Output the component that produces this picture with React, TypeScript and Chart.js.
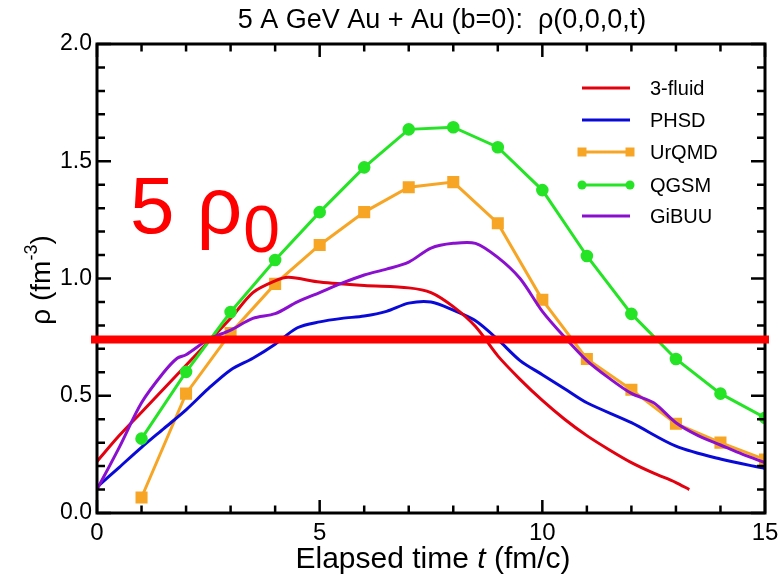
import React, { useEffect, useRef } from 'react';
import { Chart, registerables } from 'chart.js';

Chart.register(...registerables);

// ---- data ----
const markerTimes = [1, 2, 3, 4, 5, 6, 7, 8, 9, 10, 11, 12, 13, 14, 15];
const urqmdRho = [0.066, 0.509, 0.768, 0.977, 1.143, 1.283, 1.389, 1.411, 1.236, 0.909, 0.657, 0.526, 0.381, 0.3, 0.228];
const qgsmRho = [0.317, 0.602, 0.857, 1.079, 1.283, 1.474, 1.636, 1.645, 1.56, 1.377, 1.096, 0.849, 0.657, 0.509, 0.406];

const fluidT = [0, 0.5, 1, 1.5, 2, 2.5, 3, 3.5, 4, 4.3, 5, 6, 7, 7.5, 8, 8.5, 9, 9.5, 10, 10.5, 11, 11.5, 12, 12.5, 13, 13.3];
const fluidRho = [0.22, 0.33, 0.43, 0.53, 0.63, 0.73, 0.83, 0.94, 0.99, 1.005, 0.985, 0.97, 0.96, 0.94, 0.88, 0.795, 0.67, 0.57, 0.48, 0.4, 0.33, 0.27, 0.215, 0.17, 0.13, 0.1];

const phsdT = [0, 0.5, 1, 1.5, 2, 2.5, 3, 3.5, 4, 4.5, 5, 5.5, 6, 6.5, 7, 7.5, 8, 8.5, 9, 9.5, 10, 10.5, 11, 12, 13, 14, 15];
const phsdRho = [0.11, 0.195, 0.28, 0.36, 0.44, 0.53, 0.61, 0.66, 0.72, 0.79, 0.815, 0.83, 0.84, 0.86, 0.895, 0.9, 0.865, 0.82, 0.74, 0.65, 0.59, 0.53, 0.47, 0.385, 0.285, 0.23, 0.19];

const gibuuT = [0, 0.5, 1, 1.5, 1.8, 2, 2.5, 3, 3.5, 4, 4.5, 5, 5.5, 6, 6.5, 7, 7.5, 8, 8.5, 9, 9.5, 10, 10.5, 11, 11.5, 12, 12.5, 13, 13.5, 14, 14.5, 15];
const gibuuRho = [0.1, 0.28, 0.47, 0.6, 0.66, 0.675, 0.74, 0.78, 0.83, 0.85, 0.9, 0.94, 0.98, 1.015, 1.04, 1.07, 1.13, 1.15, 1.15, 1.09, 1.0, 0.86, 0.75, 0.65, 0.575, 0.51, 0.47, 0.385, 0.33, 0.29, 0.25, 0.215];

const seriesNames = ['3-fluid', 'PHSD', 'UrQMD', 'QGSM', 'GiBUU'];
const threshold = 0.74; // 5 rho_0 line
const titleText = '5 A GeV Au + Au (b=0):  \u03c1(0,0,0,t)';

const FONT = '"Liberation Sans", Arial, Helvetica, sans-serif';

const pts = (xs: number[], ys: number[]) => xs.map((x, i) => ({ x, y: ys[i] }));

const decorations = {
  id: 'decorations',
  afterDatasetsDraw(chart: any) {
    const { ctx, chartArea: a, scales } = chart;
    const xs = scales.x;
    const ys = scales.y;
    ctx.save();
    // frame
    ctx.strokeStyle = '#000';
    ctx.lineWidth = 3;
    ctx.strokeRect(a.left, a.top, a.right - a.left, a.bottom - a.top);
    // ticks (inward, mirrored)
    ctx.lineWidth = 2.5;
    ctx.beginPath();
    for (let t = 0; t <= 15; t += 1) {
      const px = xs.getPixelForValue(t);
      const len = t % 5 === 0 ? 13 : 7.5;
      ctx.moveTo(px, a.bottom);
      ctx.lineTo(px, a.bottom - len);
      ctx.moveTo(px, a.top);
      ctx.lineTo(px, a.top + len);
    }
    for (let k = 0; k <= 20; k += 1) {
      const py = ys.getPixelForValue(k / 10);
      const len = k % 5 === 0 ? 14 : 8;
      ctx.moveTo(a.left, py);
      ctx.lineTo(a.left + len, py);
      ctx.moveTo(a.right, py);
      ctx.lineTo(a.right - len, py);
    }
    ctx.stroke();

    // threshold line
    const ty = ys.getPixelForValue(threshold);
    ctx.strokeStyle = '#ff0000';
    ctx.lineWidth = 8;
    ctx.beginPath();
    ctx.moveTo(a.left - 6, ty);
    ctx.lineTo(a.right + 4, ty);
    ctx.stroke();

    // annotation 5 rho_0
    ctx.fillStyle = '#ff0000';
    ctx.textBaseline = 'alphabetic';
    ctx.textAlign = 'left';
    ctx.font = `80px ${FONT}`;
    const ax = 130;
    const ab = 233;
    ctx.fillText('5 \u03c1', ax, ab);
    const w = ctx.measureText('5 \u03c1').width;
    ctx.font = `66px ${FONT}`;
    ctx.fillText('0', ax + w + 1, ab + 19);

    // title
    ctx.fillStyle = '#000';
    ctx.font = `27px ${FONT}`;
    ctx.textAlign = 'center';
    ctx.fillText(titleText, 442, 28);

    // x-axis title with italic t
    const XF = 30;
    ctx.font = `${XF}px ${FONT}`;
    const p1 = 'Elapsed time ';
    const p3 = ' (fm/c)';
    const w1 = ctx.measureText(p1).width;
    const w3 = ctx.measureText(p3).width;
    ctx.font = `italic ${XF}px ${FONT}`;
    const w2 = ctx.measureText('t').width;
    const total = w1 + w2 + w3;
    let sx = 433 - total / 2;
    ctx.textAlign = 'left';
    ctx.font = `${XF}px ${FONT}`;
    ctx.fillText(p1, sx, 568);
    sx += w1;
    ctx.font = `italic ${XF}px ${FONT}`;
    ctx.fillText('t', sx, 568);
    sx += w2;
    ctx.font = `${XF}px ${FONT}`;
    ctx.fillText(p3, sx, 568);

    // y-axis title rotated
    ctx.save();
    ctx.translate(50, 280);
    ctx.rotate(-Math.PI / 2);
    ctx.font = `28px ${FONT}`;
    const q1 = '\u03c1 (fm';
    const q2 = '-3';
    const q3 = ')';
    const v1 = ctx.measureText(q1).width;
    const v3 = ctx.measureText(q3).width;
    ctx.font = `18px ${FONT}`;
    const v2 = ctx.measureText(q2).width;
    let qx = -(v1 + v2 + v3) / 2;
    ctx.font = `28px ${FONT}`;
    ctx.fillText(q1, qx, 0);
    qx += v1;
    ctx.font = `18px ${FONT}`;
    ctx.fillText(q2, qx, -13);
    qx += v2;
    ctx.font = `28px ${FONT}`;
    ctx.fillText(q3, qx, 0);
    ctx.restore();

    // legend
    const ds = chart.data.datasets;
    const lx0 = 582;
    const lx1 = 630;
    const tx = 650;
    const ly = [88, 120, 152, 185, 216];
    ctx.font = `20px ${FONT}`;
    ctx.textBaseline = 'middle';
    ds.forEach((d: any, i: number) => {
      const y = ly[i];
      ctx.strokeStyle = d.borderColor;
      ctx.lineWidth = 3;
      ctx.beginPath();
      ctx.moveTo(lx0, y);
      ctx.lineTo(lx1, y);
      ctx.stroke();
      if (d.pointRadius > 0) {
        ctx.fillStyle = d.pointBackgroundColor;
        for (const px of [lx0, lx1]) {
          if (d.pointStyle === 'rect') {
            ctx.fillRect(px - 4.5, y - 4.5, 9, 9);
          } else {
            ctx.beginPath();
            ctx.arc(px, y, 4.5, 0, Math.PI * 2);
            ctx.fill();
          }
        }
      }
      ctx.fillStyle = '#000';
      ctx.fillText(d.label, tx, y + 1);
    });
    ctx.restore();
  },
};

export default function App() {
  const ref = useRef<HTMLCanvasElement | null>(null);
  useEffect(() => {
    document.body.style.margin = '0';
    const canvas = ref.current;
    if (!canvas) return;
    const chart = new Chart(canvas, {
      type: 'line',
      data: {
        datasets: [
          {
            label: seriesNames[0],
            data: pts(fluidT, fluidRho),
            borderColor: '#e3000f',
            borderWidth: 3,
            pointRadius: 0,
            tension: 0.3,
            order: 3,
          },
          {
            label: seriesNames[1],
            data: pts(phsdT, phsdRho),
            borderColor: '#0a0ad8',
            borderWidth: 3,
            pointRadius: 0,
            tension: 0.3,
            order: 4,
          },
          {
            label: seriesNames[2],
            data: pts(markerTimes, urqmdRho),
            borderColor: '#f7a524',
            backgroundColor: '#f7a524',
            pointBackgroundColor: '#f7a524',
            pointBorderColor: '#f7a524',
            pointStyle: 'rect',
            pointRadius: 6.4,
            borderWidth: 3,
            tension: 0,
            order: 5,
          },
          {
            label: seriesNames[3],
            data: pts(markerTimes, qgsmRho),
            borderColor: '#25e325',
            backgroundColor: '#25e325',
            pointBackgroundColor: '#25e325',
            pointBorderColor: '#25e325',
            pointStyle: 'circle',
            pointRadius: 4.8,
            borderWidth: 3,
            tension: 0,
            order: 2,
          },
          {
            label: seriesNames[4],
            data: pts(gibuuT, gibuuRho),
            borderColor: '#8a0fcf',
            borderWidth: 3,
            pointRadius: 0,
            tension: 0.3,
            order: 1,
          },
        ],
      },
      options: {
        animation: false,
        responsive: true,
        maintainAspectRatio: false,
        layout: { padding: { top: 44, right: 13, left: 0, bottom: 0 } },
        plugins: {
          legend: { display: false },
          title: { display: false },
          tooltip: { enabled: false },
        },
        scales: {
          x: {
            type: 'linear',
            min: 0,
            max: 15,
            grid: { display: false, drawTicks: false },
            border: { display: false },
            ticks: {
              stepSize: 5,
              color: '#000',
              font: { family: FONT, size: 24 },
              padding: 6,
              maxRotation: 0,
              callback: (v: any) => String(v),
            },
            afterFit: (s: any) => {
              s.height = 64;
              s.paddingLeft = 0;
              s.paddingRight = 0;
            },
          },
          y: {
            type: 'linear',
            min: 0,
            max: 2,
            grid: { display: false, drawTicks: false },
            border: { display: false },
            ticks: {
              stepSize: 0.5,
              color: '#000',
              font: { family: FONT, size: 23 },
              padding: 5,
              callback: (v: any) => Number(v).toFixed(1),
            },
            afterFit: (s: any) => {
              s.width = 97;
              s.paddingTop = 0;
              s.paddingBottom = 0;
            },
          },
        },
      },
      plugins: [decorations],
    });
    return () => chart.destroy();
  }, []);
  return (
    <div style={{ position: 'absolute', left: 0, top: 0, width: 778, height: 577, background: '#fff' }}>
      <canvas ref={ref} />
    </div>
  );
}
